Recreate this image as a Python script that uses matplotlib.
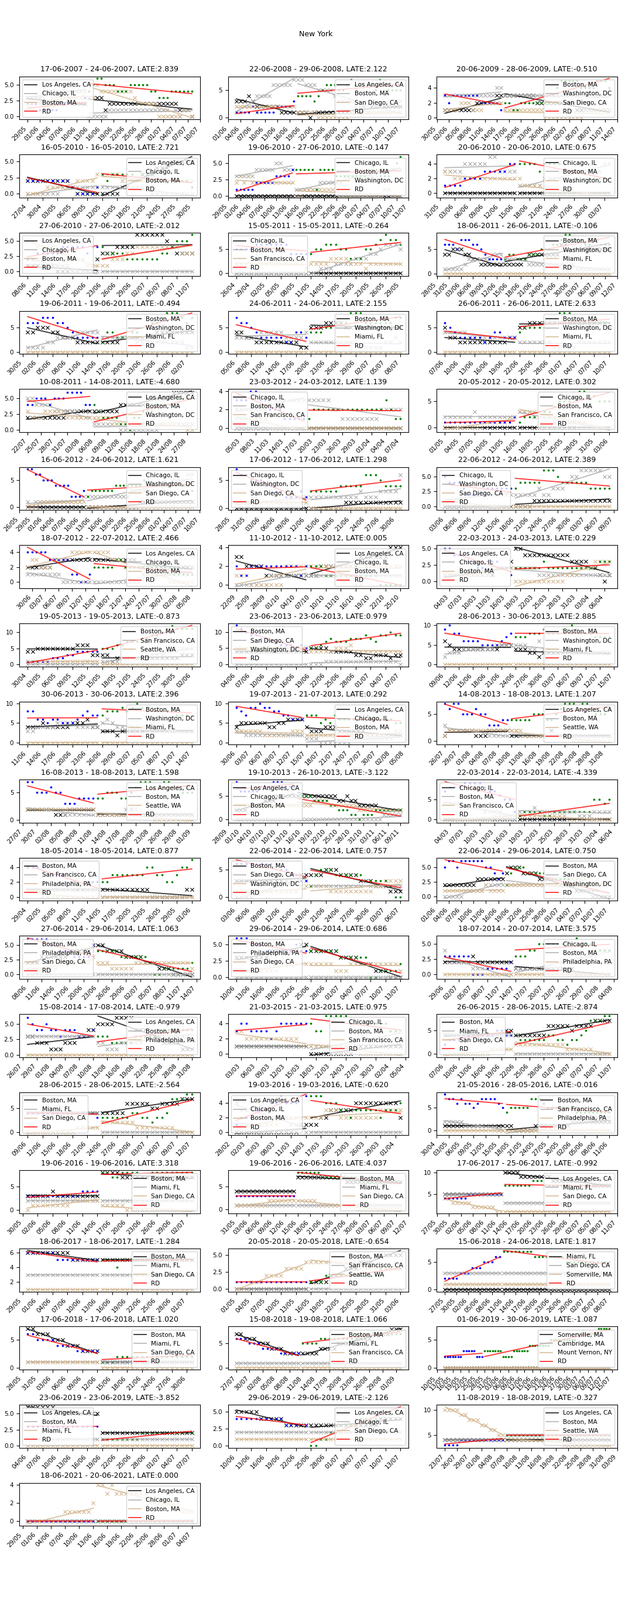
import math
from datetime import datetime, timedelta

import numpy as np
import matplotlib
matplotlib.use('Agg')
import matplotlib.pyplot as plt

plt.rcParams['font.size'] = 7.5

# ---------------------------------------------------------------- data
TITLES = [
    '17-06-2007 - 24-06-2007, LATE:2.839', '22-06-2008 - 29-06-2008, LATE:2.122', '20-06-2009 - 28-06-2009, LATE:-0.510',
    '16-05-2010 - 16-05-2010, LATE:2.721', '19-06-2010 - 27-06-2010, LATE:-0.147', '20-06-2010 - 20-06-2010, LATE:0.675',
    '27-06-2010 - 27-06-2010, LATE:-2.012', '15-05-2011 - 15-05-2011, LATE:-0.264', '18-06-2011 - 26-06-2011, LATE:-0.106',
    '19-06-2011 - 19-06-2011, LATE:-0.494', '24-06-2011 - 24-06-2011, LATE:2.155', '26-06-2011 - 26-06-2011, LATE:2.633',
    '10-08-2011 - 14-08-2011, LATE:-4.680', '23-03-2012 - 24-03-2012, LATE:1.139', '20-05-2012 - 20-05-2012, LATE:0.302',
    '16-06-2012 - 24-06-2012, LATE:1.621', '17-06-2012 - 17-06-2012, LATE:1.298', '22-06-2012 - 24-06-2012, LATE:2.389',
    '18-07-2012 - 22-07-2012, LATE:2.466', '11-10-2012 - 11-10-2012, LATE:0.005', '22-03-2013 - 24-03-2013, LATE:0.229',
    '19-05-2013 - 19-05-2013, LATE:-0.873', '23-06-2013 - 23-06-2013, LATE:0.979', '28-06-2013 - 30-06-2013, LATE:2.885',
    '30-06-2013 - 30-06-2013, LATE:2.396', '19-07-2013 - 21-07-2013, LATE:0.292', '14-08-2013 - 18-08-2013, LATE:1.207',
    '16-08-2013 - 18-08-2013, LATE:1.598', '19-10-2013 - 26-10-2013, LATE:-3.122', '22-03-2014 - 22-03-2014, LATE:-4.339',
    '18-05-2014 - 18-05-2014, LATE:0.877', '22-06-2014 - 22-06-2014, LATE:0.757', '22-06-2014 - 29-06-2014, LATE:0.750',
    '27-06-2014 - 29-06-2014, LATE:1.063', '29-06-2014 - 29-06-2014, LATE:0.686', '18-07-2014 - 20-07-2014, LATE:3.575',
    '15-08-2014 - 17-08-2014, LATE:-0.979', '21-03-2015 - 21-03-2015, LATE:0.975', '26-06-2015 - 28-06-2015, LATE:-2.874',
    '28-06-2015 - 28-06-2015, LATE:-2.564', '19-03-2016 - 19-03-2016, LATE:-0.620', '21-05-2016 - 28-05-2016, LATE:-0.016',
    '19-06-2016 - 19-06-2016, LATE:3.318', '19-06-2016 - 26-06-2016, LATE:4.037', '17-06-2017 - 25-06-2017, LATE:-0.992',
    '18-06-2017 - 18-06-2017, LATE:-1.284', '20-05-2018 - 20-05-2018, LATE:-0.654', '15-06-2018 - 24-06-2018, LATE:1.817',
    '17-06-2018 - 17-06-2018, LATE:1.020', '15-08-2018 - 19-08-2018, LATE:1.066', '01-06-2019 - 30-06-2019, LATE:-1.087',
    '23-06-2019 - 23-06-2019, LATE:-3.852', '29-06-2019 - 29-06-2019, LATE:-2.126', '11-08-2019 - 18-08-2019, LATE:-0.327',
    '18-06-2021 - 20-06-2021, LATE:0.000',
]

LA, CHI, BOS, SD, SF = 'Los Angeles, CA', 'Chicago, IL', 'Boston, MA', 'San Diego, CA', 'San Francisco, CA'
DC, MIA, SEA, PHI = 'Washington, DC', 'Miami, FL', 'Seattle, WA', 'Philadelphia, PA'
CITIES = [
    (LA, CHI, BOS), (LA, BOS, SD), (BOS, DC, SD), (LA, CHI, BOS), (CHI, BOS, DC), (CHI, BOS, DC),
    (LA, CHI, BOS), (CHI, BOS, SF), (BOS, DC, MIA), (BOS, DC, MIA), (BOS, DC, MIA), (BOS, DC, MIA),
    (LA, BOS, DC), (CHI, BOS, SF), (CHI, BOS, SF), (CHI, DC, SD), (CHI, DC, SD), (CHI, DC, SD),
    (LA, CHI, BOS), (LA, CHI, BOS), (LA, CHI, BOS), (BOS, SF, SEA), (BOS, SD, DC), (BOS, DC, MIA),
    (BOS, DC, MIA), (LA, CHI, BOS), (LA, BOS, SEA), (LA, BOS, SEA), (LA, CHI, BOS), (CHI, BOS, SF),
    (BOS, SF, PHI), (BOS, SD, DC), (BOS, SD, DC), (BOS, PHI, SD), (BOS, PHI, SD), (CHI, BOS, PHI),
    (LA, BOS, PHI), (CHI, BOS, SF), (BOS, MIA, SD), (BOS, MIA, SD), (LA, CHI, BOS), (BOS, SF, PHI),
    (BOS, MIA, SD), (BOS, MIA, SD), (LA, MIA, SD), (BOS, MIA, SD), (BOS, SF, SEA), (MIA, SD, 'Somerville, MA'),
    (BOS, MIA, SD), (BOS, MIA, SF), ('Somerville, MA', 'Cambridge, MA', 'Mount Vernon, NY'),
    (LA, BOS, MIA), (LA, CHI, SD), (LA, BOS, SEA), (LA, CHI, BOS),
]

# first plotted day of each panel and the tick phase (ticks every 3 days)
STARTS = [
    '29/05/2007', '03/06/2008', '01/06/2009', '27/04/2010', '31/05/2010', '01/06/2010',
    '08/06/2010', '26/04/2011', '30/05/2011', '31/05/2011', '05/06/2011', '07/06/2011',
    '22/07/2011', '04/03/2012', '01/05/2012', '28/05/2012', '29/05/2012', '03/06/2012',
    '29/06/2012', '22/09/2012', '03/03/2013', '30/04/2013', '04/06/2013', '09/06/2013',
    '11/06/2013', '30/06/2013', '26/07/2013', '28/07/2013', '30/09/2013', '03/03/2014',
    '29/04/2014', '03/06/2014', '03/06/2014', '08/06/2014', '10/06/2014', '29/06/2014',
    '27/07/2014', '02/03/2015', '07/06/2015', '09/06/2015', '29/02/2016', '02/05/2016',
    '31/05/2016', '31/05/2016', '29/05/2017', '30/05/2017', '01/05/2018', '27/05/2018',
    '29/05/2018', '27/07/2018', '13/05/2019', '04/06/2019', '10/06/2019', '23/07/2019',
    '30/05/2021',
]
TICK_PHASE = [
    0, 1, 1, 0, 1, 2, 0, 0, 1, 2, 0, 0, 0, 1, 0, 1, 2, 0, 1, 0, 1, 0, 0, 0, 0, 0, 0, 2,
    1, 1, 0, 0, 1, 0, 0, 0, 2, 1, 0, 0, 2, 1, 2, 0, 1, 2, 0, 0, 2, 0, 0, 0, 0, 0, 2,
]
LEGEND_LOC = [
    'upper left', 'upper right', 'upper right', 'upper right', 'upper right', 'upper right',
    'upper left', 'upper left', 'upper right', 'upper right', 'upper right', 'upper right',
    'upper right', 'upper left', 'upper right', 'upper right', 'upper left', 'upper left',
    'upper right', 'upper right', 'upper left', 'upper right', 'upper left', 'upper right',
    'upper right', 'upper right', 'upper right', 'upper right', 'upper left', 'upper left',
    'upper left', 'upper left', 'upper right', 'upper left', 'upper left', 'upper right',
    'upper right', 'upper right', 'upper left', 'upper left', 'upper left', 'upper right',
    'upper right', 'upper right', 'upper right', 'upper right', 'upper right', 'upper right',
    'upper right', 'upper right', 'upper right', 'upper left', 'upper right', 'upper right',
    'upper right',
]

# daily counts, one character per day (0-9, a=10, b=11, c=12); before / after the cut-off
NY_PRE = [
    '222111112222223', '111121111122223', '323333333222221', '222222222100001', '111112222233334', '111122223333344',
    '223333344444344', '555566666664444', '666577766543333', '666777665433333', '766543333322443', '654333332344333',
    '445554555666644', '333443322211111', '111111111111112', '776655544442223', '766555443322232', '544432222333333',
    '444443333311001', '211222222222212', '554443322333221', '111112223344444', 'cba998877666565', '9a8866665555678',
    '886656655567877', '98799a998877666', '767755565533344', '775556553334444', '866666777888777', '788899998776552',
    '444443332211222', '666666666554433', '566566666655434', '666665544433335', '666555444444544', '333333000111112',
    '654454434443334', '344333323444444', '233344444445544', '444444444444443', '122233344544455', '877676656777765',
    '333333333334444', '333333333333333', '444444555555555', '666666555555555', '111111111111111', '222233344455566',
    '665555444433333', '666555444433333', '222222233333222', '333333333333333', '444444444433333', '333344444444444',
    '000000000000000',
]
NY_POST = [
    '45665554445555544333444444', '44443456665567666665765555', '221122222222345555544445554', '3233333233322222221',
    '444441444433333333444333456', '4444344444333222222', '4333322222223345556', '4556665533355678776',
    '344333444555667887776677666', '2443334455667888767', '4445556688866666677', '4555556688866666666',
    '43222211022333444455556', '12222222222222223211', '1222333455567766555', '233333344444445444444444443',
    '3333334444466654444', '344444666544444433333', '22222332222222222211111', '2221111111111100000',
    '222222322222222222333', '555667778899abcbbbb', '5567877788898799a99', '777888988899a98887777',
    '7888989a99988887777', '777565766666676666655', '44444555445677767765556', '445554456777667766555',
    '55554444332221101112222222', '1222211222222225545', '2233333334433223445', '2455544444433333200',
    '24555444443333332222211000', '444443333332001111112', '4444443333330011112', '333445555555565554444',
    '333222223333344444444', '4335555544444444331', '433333344332334577788', '3333334433233477788',
    '5554443323333323334', '45555577765555555444444444', '8877888877888888888', '88888877777777766666666666',
    '777777788877777766677777777', '5554555555555555555', '1112222222222233333', '7777777766666666555555555555',
    '1112222222222222222', '55556666666677777777777', '333333322223333334444444455555555556666666677777',
    '1111111122222222222', '0011223333444455555', '55555555555555555555555555', '000000000000000000000',
]

A_PRE = [
    '333322222232222', '333432222221111', '111111112222233', '222222222100000', '000000000000000', '000000000000000',
    '111111000000002', '000000000000000', '445554433222222', '445554433322222', '443322222222211', '533222222222233',
    '222222222333333', '000000000000000', '000000000000000', '000000000000000', '000000000000000', '000000000000000',
    '222222333333333', '332222111111111', '111111111112223', '445555555566633', '444444444444444', '654444444444555',
    '444544444555644', '455555544556666', '122222211122222', '222222111222222', '222333344455555', '000000000000000',
    '111111111111111', '333333333333344', '222222223333333', '222333333444445', '333333344444455', '222222322222222',
    '332221112223344', '111111111111111', '444444444444455', '444444444444444', '000000000000011', '111111111111111',
    '333334333333333', '444444444444444', '555555555555555', '666666666555555', '000000000000000', '000000000000000',
    '776665554443333', '776665554443333', '000000000000000', '666666555555555', '555554444433333', '444444444444444',
    '000000000000000',
]
A_POST = [
    '33331222222222222222221110', '11101111111111112122222222', '333333332222222222111111111', '0000112233344455555',
    '000000000000000000000000000', '0000000000000000000', '3334444666666543333', '0000000000000000000',
    '222223444444446677755555555', '2222333333344444444', '5556666555555555555', '5566666666666666665',
    '33333344444455555566666', '00000000000000000000', '0000000000000000000', '000000000000011111111111111',
    '0000000111111111111', '000011111111111111111', '33333333332222222222222', '1122222222333333444',
    '554444444444333322101', '3312222222222222333', '5555444443322333233', '444332333333333333333',
    '3332333333333333333', '433344433333322222222', '11111111121111111111111', '111111121111111111111',
    '55555555554454433333222222', '0000000000000000000', '1111111111000000011', '4445554444333222111',
    '45554444333322222111100000', '554444333322211100000', '4444443333222111000', '111111111111100000000',
    '555566664443332222111', '0000000001111111111', '444444466666566667777', '4444466666556666777',
    '1122333334444444442', '11000001111111112222222222', '8888777777777777777', '77777777777766666666666666',
    'aaaa99999999888888888877777', '5555555555555555555', '1111222333444555555', '0000000000000000000000000000',
    '1111111111111111111', '33334444555566667777888', '000000000000000000000000000000000000000000000000',
    '2222222222222222222', '3333333333333344444', '44444444444444444444444444', '000000000000000000000',
]

B_PRE = [
    '333334444444444', '112234444666667', '333333333333344', '000000011111111', '333334444455444', '333344444553333',
    '222211111000000', '000000000000000', '111112333333444', '111122333344444', '333334444433334', '444443333333333',
    '554444333333222', '222222233333333', '222222322222222', '101111111111112', '111111111112222', '111112222222222',
    '111111110000000', '000000011111111', '111111112222222', '000100000000100', '000000000000000', '233344444445555',
    '334444555544444', '332222222222222', '322222222211111', '222222221111111', '000000000000000', '444433332222111',
    '111111111111111', '000011112233333', '000001111122222', '000000000000000', '000000000000000', '422222111100000',
    '333333333333333', '111111111111111', '444444444444444', '444444444444444', '433333222221110', '222221111111100',
    '222222222222222', '111111111111111', '555555555555555', '333333333333333', '000000000000000', '333333333333333',
    '111111111111111', '111111111111111', '000000000000000', '111111111111111', '222222222222222', '444444444444444',
    '000000000000000',
]
B_POST = [
    '00000111111111111111010110', '77666555543333222211111333', '333333333333333333322233333', '1111111111000000000',
    '111111222222333333333444444', '1111122222333333344', '0000000000000000000', '0011122223334456665',
    '333333222222222222111111111', '3333333222222222211', '2222222222111112232', '2222222111112222222',
    '11111100000000011111111', '33333221111111122222', '3332222111110000000', '222222222223333333444555566',
    '2222222222322233336', '222223223334556666655', '00000000000111111111112', '1111111111111111111',
    '222221111111111111111', '1111222223333444555', '0001111111111111110', '555446444433333333333',
    '5654444443333333333', '111000000011111111122', '22111111111111111111111', '111111222111111111111',
    '00000000000000000000011111', '2223222222221112222', '0000000000000000000', '2222222222232222222',
    '22222222222333332221100000', '000000000000000000000', '0000000000000000000', '111111111122223333444',
    '221112222233333333333', '1111111111222222333', '000000000000000000000', '0000000000000000000',
    '0000000000000000000', '00000000001111112222233333', '2222222222222222222', '11111111111111111111111111',
    '333333333333333333333333333', '3333333333333333333', '0000000000000000000', '3333333333333333333333333333',
    '1111111111111111111', '11111111111111111111111', '000000000000000000000000000000000000000000000000',
    '1111111111111111111', '2222222222222222222', '55555555555555555555555555', '000000000000000000000',
]

C_PRE = [
    '222222333333333', '222221222222222', '111122211122222', '000011111122223', '232322222222222', '332222222222222',
    '554444333222111', '222222222222221', '000000000000000', '000000000000000', '000000000000000', '000000000000000',
    '322233333222222', '111111100000000', '000000001111122', '000111111111111', '111111111111111', '111110000000000',
    '233222333344444', '111000000022222', '111111111122222', '111111111111111', '555555555555555', '000000000000000',
    '000000000000000', '333333222222333', '122222222222222', '222222222222222', '333333333333333', '000000000011111',
    '111000000000000', '111111111111122', '111111111121111', '111111122222223', '111111111222222', '000000000000000',
    '000000000000000', '332222222222211', '000000000011111', '000000000011111', '111111111222222', '000000000000000',
    '011111111222222', '111111112222222', '443333322222211', '111111111111111', '000111222233334', '111111111111111',
    '111111111111111', '000000000000000', '000000000000000', '000000000000000', '111111111111111', 'aaaa99888776655',
    '000000001111112',
]
C_POST = [
    '33544444444322222000000110', '11111000000001111111111111', '111111111100000000001111111', '3333222222222222222',
    '001111111110000000000011000', '2111100000000000000', '1122233444444444333', '2222333322212222222',
    '000000000000000000000000000', '0000000000000000000', '0000000000000000000', '0000000000000000000',
    '22221111111111111111100', '00000000000000000000', '3333332222111100000', '000000000000000000000000000',
    '0000000000000000000', '000000000000000000000', '44443332222111111000000', '2222222220022222222',
    '000000000001112223333', '0000000000000000000', '4444455564444444444', '000000000000000000000',
    '0000000000000000000', '222222222222222222233', '22211111111111000000000', '111111111111000000000',
    '33334444333333322222222222', '1111111111000000000', '0000000000000000000', '2222111111111223333',
    '22222222222222223333222222', '222111112222222222221', '2222211122222222221', '000000000000000000000',
    '000000000000000000000', '1111111111000000000', '222222222221111110000', '2222222111111110000',
    '2223332222222233333', '00000000000000000000000000', '1111100000000000000', '22222111111111100000000000',
    '111111111111111111111111111', '1111111111111111111', '4444444444333333333', '1111111111111111111111111111',
    '0000000000000000000', '00000000000000000000000', '000000000000000000000000000000000000000000000000',
    '0000000000000000000', '1111111111111111111', '44444444444444333333333333', '443433333332222222111',
]

MARK_COLORS = ['black', 'darkgray', 'tan']

# ---------------------------------------------------------------- checks
bad = []
for i in range(len(TITLES)):
    npre, npost = len(NY_PRE[i]), len(NY_POST[i])
    for nm, lst, ref in [('A_PRE', A_PRE, npre), ('B_PRE', B_PRE, npre), ('C_PRE', C_PRE, npre),
                         ('A_POST', A_POST, npost), ('B_POST', B_POST, npost), ('C_POST', C_POST, npost)]:
        if len(lst[i]) != ref:
            bad.append(f'panel {i + 1} {nm}: {len(lst[i])} != {ref}')
if bad:
    raise ValueError('\n'.join(bad))


def decode(s):
    return np.array([int(ch, 36) for ch in s], dtype=float)


def fit_line(ax, x, y, color, label=None):
    coef = np.polyfit(x, y, 1)
    ax.plot(x, np.polyval(coef, x), color=color, alpha=0.8, lw=1.3, label=label, zorder=3)


# ---------------------------------------------------------------- figure
fig, axes = plt.subplots(19, 3, figsize=(10.8, 27.36), dpi=100)
fig.subplots_adjust(left=0.0306, right=0.9769, top=0.9522, bottom=0.0463, hspace=0.815, wspace=0.155)
fig.suptitle('New York', y=0.981, fontsize=9)

for i, ax in enumerate(axes.flat):
    if i >= len(TITLES):
        ax.axis('off')
        continue
    n_pre, n_post = len(NY_PRE[i]), len(NY_POST[i])
    x_pre = np.arange(n_pre)
    x_post = np.arange(n_pre, n_pre + n_post)

    city_pre = [A_PRE[i], B_PRE[i], C_PRE[i]]
    city_post = [A_POST[i], B_POST[i], C_POST[i]]
    for name, pre, post, col in zip(CITIES[i], city_pre, city_post, MARK_COLORS):
        y_pre, y_post = decode(pre), decode(post)
        ax.scatter(np.concatenate([x_pre, x_post]), np.concatenate([y_pre, y_post]),
                   marker='x', color=col, s=20, linewidths=0.8, zorder=2)
        fit_line(ax, x_pre, y_pre, col, label=name)
        fit_line(ax, x_post, y_post, col)

    ny_pre, ny_post = decode(NY_PRE[i]), decode(NY_POST[i])
    ax.scatter(x_pre, ny_pre, color='blue', s=7, linewidths=0, zorder=2.5)
    ax.scatter(x_post, ny_post, color='green', s=7, linewidths=0, zorder=2.5)
    fit_line(ax, x_pre, ny_pre, 'red', label='RD')
    fit_line(ax, x_post, ny_post, 'red')

    ax.set_title(TITLES[i], fontsize=9)

    lo, hi = ax.get_xlim()
    start = datetime.strptime(STARTS[i], '%d/%m/%Y')
    ticks = [k for k in range(math.ceil(lo - 1e-6), math.floor(hi + 1e-6) + 1)
             if (k - TICK_PHASE[i]) % 3 == 0]
    labels = [(start + timedelta(days=k)).strftime('%d/%m') for k in ticks]
    ax.set_xticks(ticks, labels, rotation=45, ha='right')
    ax.set_xlim(lo, hi)

    ax.legend(loc=LEGEND_LOC[i], fontsize=7.5)

fig.savefig('out.png', dpi=100)
